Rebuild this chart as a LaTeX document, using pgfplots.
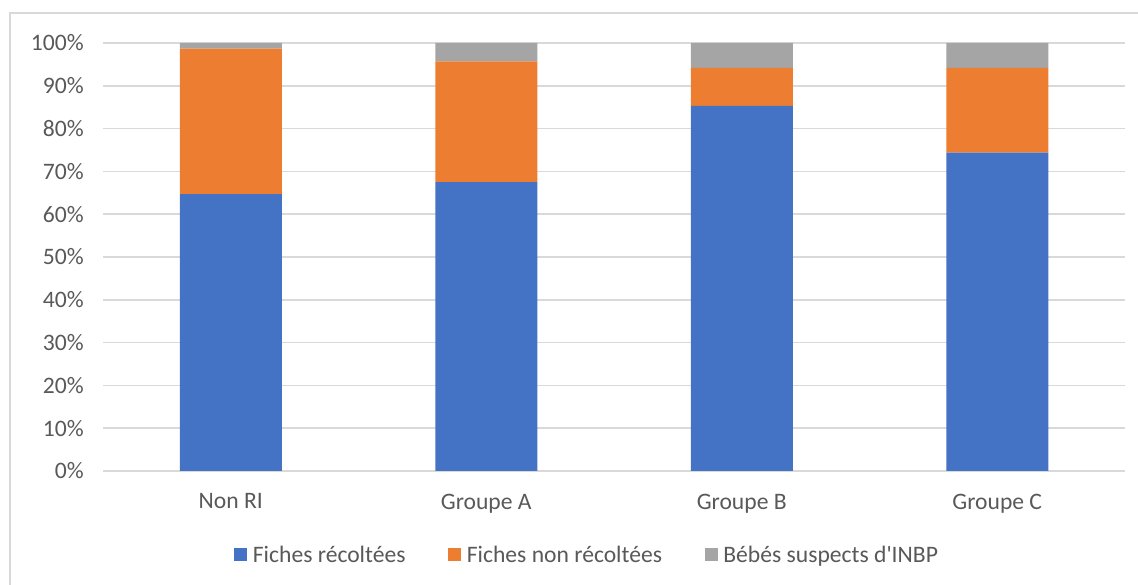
\documentclass[border=0pt]{standalone}
\usepackage{pgfplots}
\pgfplotsset{compat=1.18}
\usepackage{fontspec}
\setmainfont{Carlito}

\definecolor{bleu}{HTML}{4472C4}
\definecolor{orange}{HTML}{ED7D31}
\definecolor{gris}{HTML}{A5A5A5}
\definecolor{grille}{HTML}{D9D9D9}
\definecolor{texte}{HTML}{595959}

\begin{document}
\begin{tikzpicture}
\useasboundingbox (0,0) rectangle (853.5pt,438.75pt);
\begin{scope}
\clip (0,0) rectangle (853.5pt,438.75pt);
\draw[grille, line width=1.2pt] (7.5pt,-20pt) -- (7.5pt,429pt) -- (880pt,429pt);
\end{scope}
\begin{axis}[
    at={(77.25pt,85.5pt)}, anchor=south west,
    scale only axis,
    width=766.5pt, height=321pt,
    ybar stacked,
    bar width=76.5pt,
    xmin=-0.5, xmax=3.5,
    ymin=0, ymax=100,
    ytick={0,10,...,100},
    yticklabel={\pgfmathprintnumber{\tick}\%},
    xtick=data,
    xticklabels={Non RI, Groupe A, Groupe B, Groupe C},
    /pgf/number format/assume math mode=true,
    axis line style={draw=none},
    major tick length=0pt,
    ymajorgrids,
    grid style={grille, line width=1.2pt},
    tick label style={font=\fontsize{17.7}{21}\selectfont, text=texte},
    yticklabel style={xshift=-11pt},
    xticklabel style={yshift=-13.5pt},
    legend columns=3,
    legend style={at={(0.474,-0.196)}, anchor=center, draw=none,
        font=\fontsize{17.7}{21}\selectfont, text=texte,
        /tikz/every odd column/.append style={column sep=2.25pt},
        /tikz/every even column/.append style={column sep=30pt}},
    legend image code/.code={\fill[#1] (0pt,-4.9pt) rectangle (9.75pt,4.9pt);},
]
\addplot[fill=bleu, draw=none] coordinates {(0,64.7) (1,67.5) (2,85.3) (3,74.4)};
\addplot[fill=orange, draw=none] coordinates {(0,34.0) (1,28.2) (2,8.9) (3,19.8)};
\addplot[fill=gris, draw=none] coordinates {(0,1.3) (1,4.3) (2,5.8) (3,5.8)};
\legend{Fiches récoltées, Fiches non récoltées, Bébés suspects d\textquotesingle INBP}
\end{axis}
\end{tikzpicture}
\end{document}
